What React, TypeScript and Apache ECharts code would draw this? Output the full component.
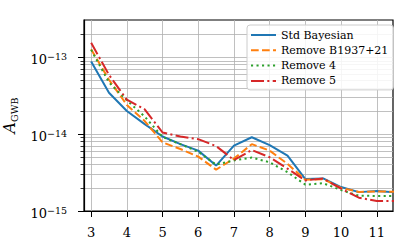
import React, { useEffect, useRef } from "react";
import * as echarts from "echarts";

// Number of pulsars / step values on the x axis
const xValues = [3, 3.5, 4, 4.5, 5, 5.5, 6, 6.5, 7, 7.5, 8, 8.5, 9, 9.5, 10, 10.5, 11, 11.5];

const stdBayesian = [8.8e-14, 3.45e-14, 2.0e-14, 1.35e-14, 9.3e-15, 7.4e-15, 6.1e-15, 3.9e-15, 7.1e-15, 9.1e-15, 7.2e-15, 5.25e-15, 2.6e-15, 2.65e-15, 2.05e-15, 1.76e-15, 1.82e-15, 1.75e-15];
const removeB1937 = [1.27e-13, 5.1e-14, 2.4e-14, 1.48e-14, 7.8e-15, 6.4e-15, 5.1e-15, 3.45e-15, 4.8e-15, 7.4e-15, 6.1e-15, 4.1e-15, 2.55e-15, 2.6e-15, 2.0e-15, 1.77e-15, 1.8e-15, 1.78e-15];
const remove4 = [1.25e-13, 4.7e-14, 2.75e-14, 1.69e-14, 9.2e-15, 7.4e-15, 5.9e-15, 4.0e-15, 4.55e-15, 4.95e-15, 4.3e-15, 3.2e-15, 2.2e-15, 2.3e-15, 1.87e-15, 1.58e-15, 1.57e-15, 1.57e-15];
const remove5 = [1.54e-13, 5.9e-14, 2.8e-14, 2.1e-14, 1.05e-14, 9.3e-15, 8.6e-15, 7.0e-15, 4.6e-15, 6.2e-15, 5.0e-15, 3.55e-15, 2.5e-15, 2.65e-15, 1.95e-15, 1.49e-15, 1.35e-15, 1.35e-15];

const seriesNames = ["Std Bayesian", "Remove B1937+21", "Remove 4", "Remove 5"];

// Tick values
const xTicks = [3, 4, 5, 6, 7, 8, 9, 10, 11];
const yMajorTicks = [1e-15, 1e-14, 1e-13];
const yMinorTicks = [
  2e-15, 3e-15, 4e-15, 5e-15, 6e-15, 7e-15, 8e-15, 9e-15,
  2e-14, 3e-14, 4e-14, 5e-14, 6e-14, 7e-14, 8e-14, 9e-14,
  2e-13,
];

const FONT = "DejaVu Serif";

export default function App() {
  const ref = useRef<HTMLDivElement>(null);

  useEffect(() => {
    if (!ref.current) return;
    const chart = echarts.init(ref.current, undefined, { renderer: "svg" });

    const pair = (ys: number[]) => xValues.map((x, i) => [x, ys[i]]);
    const colors = ["#1f77b4", "#ff7f0e", "#2ca02c", "#d62728"];
    const dashes: any[] = ["solid", [7.7, 3.3], [2.1, 3.4], [13, 3.3, 2.1, 3.3]];
    const datasets = [stdBayesian, removeB1937, remove4, remove5];

    const gridLine = { color: "#b0b0b0", width: 0.8, type: "solid" };

    const option: any = {
      animation: false,
      textStyle: { fontFamily: FONT },
      grid: {
        left: 84,
        right: 22,
        top: 20,
        bottom: 41,
        containLabel: false,
        outerBoundsMode: "none",
        show: true,
        borderColor: "#000",
        borderWidth: 1.2,
        backgroundColor: "transparent",
      },
      legend: {
        orient: "vertical",
        left: 247,
        top: 25,
        itemWidth: 25,
        itemHeight: 10,
        itemGap: 1.3,
        padding: [3, 5, 2, 3],
        backgroundColor: "rgba(255,255,255,0.85)",
        borderColor: "#cccccc",
        borderWidth: 1,
        borderRadius: 3,
        itemStyle: { opacity: 0 },
        textStyle: { fontFamily: FONT, fontSize: 11, color: "#000", lineHeight: 14 },
        data: seriesNames,
      },
      xAxis: {
        type: "value",
        min: 2.8,
        max: 11.455,
        axisLine: { show: true, lineStyle: { color: "#000", width: 1.2 } },
        axisTick: {
          show: true,
          customValues: xTicks,
          length: 6,
          lineStyle: { color: "#000", width: 1 },
        },
        axisLabel: {
          customValues: xTicks,
          margin: 15,
          fontFamily: FONT,
          fontSize: 13,
          color: "#000",
        },
        splitLine: { show: true, lineStyle: gridLine },
      },
      yAxis: [
        {
          type: "log",
          logBase: 10,
          min: 1e-15,
          max: 3.05e-13,
          name: "{i|A}{s|GWB}",
          nameLocation: "middle",
          nameRotate: 90,
          nameGap: 60,
          nameTextStyle: {
            color: "#000",
            fontFamily: FONT,
            rich: {
              i: { fontFamily: FONT, fontStyle: "italic", fontSize: 16, lineHeight: 20, color: "#000" },
              s: { fontFamily: FONT, fontSize: 9.5, lineHeight: 11, verticalAlign: "bottom", color: "#000" },
            },
          },
          axisLine: { show: true, lineStyle: { color: "#000", width: 1.2 } },
          axisTick: {
            show: true,
            customValues: yMajorTicks,
            length: 6,
            lineStyle: { color: "#000", width: 1 },
          },
          axisLabel: {
            customValues: yMajorTicks,
            margin: 17,
            fontFamily: FONT,
            formatter: (v: number) => `{b|10}{e|−${-Math.round(Math.log10(v))}}`,
            rich: {
              b: { fontFamily: FONT, fontSize: 13, lineHeight: 15, padding: [5, 0, 0, 0], color: "#000" },
              e: { fontFamily: FONT, fontSize: 9.5, lineHeight: 11, padding: [2, 0, 0, 0], verticalAlign: "top", color: "#000" },
            },
          },
          splitLine: { show: true, lineStyle: gridLine },
          minorTick: { show: false },
        },
        {
          type: "log",
          logBase: 10,
          min: 1e-15,
          max: 3.05e-13,
          position: "left",
          axisLine: { show: false },
          axisTick: {
            show: true,
            customValues: yMinorTicks,
            length: 3.5,
            lineStyle: { color: "#000", width: 0.8 },
          },
          axisLabel: { show: false },
          splitLine: { show: true, lineStyle: gridLine },
        },
      ],
      series: datasets.map((ys, i) => ({
        type: "line",
        name: seriesNames[i],
        data: pair(ys),
        symbol: "none",
        showSymbol: false,
        z: 3 + i,
        clip: true,
        color: colors[i],
        lineStyle: { color: colors[i], width: 2, type: dashes[i] },
      })),
    };

    chart.setOption(option);
    return () => chart.dispose();
  }, []);

  return (
    <div
      ref={ref}
      style={{ position: "absolute", left: 0, top: 0, width: 415, height: 252, background: "#fff" }}
    />
  );
}
